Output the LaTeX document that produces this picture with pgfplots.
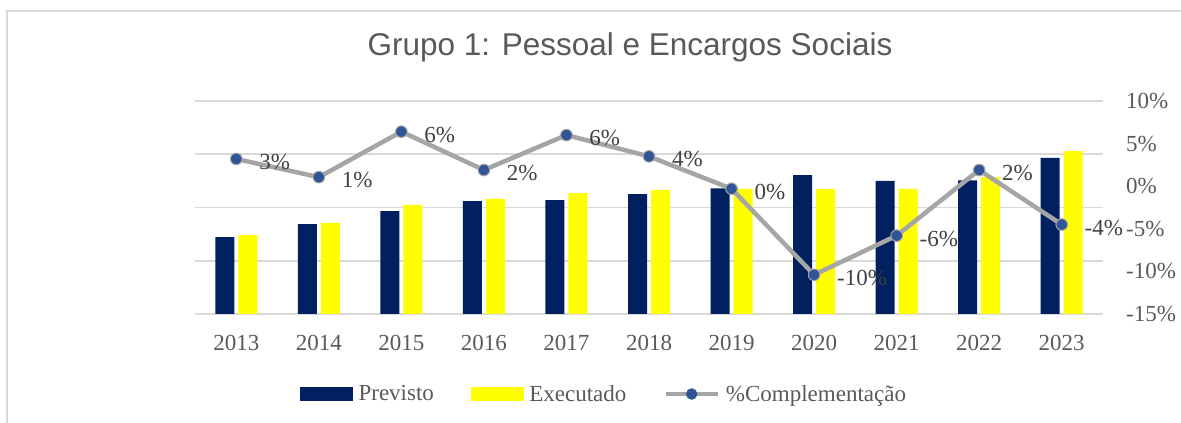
\documentclass[border=0pt]{standalone}
\usepackage{pgfplots}
\pgfplotsset{compat=1.18}
\usepackage{fontspec}
\setmainfont{Liberation Serif}
\newfontfamily\titlefont{Liberation Sans}
\definecolor{navyc}{HTML}{002060}
\definecolor{yelc}{HTML}{FFFF00}
\definecolor{linec}{HTML}{A5A5A5}
\definecolor{markc}{HTML}{2F5597}
\definecolor{gridc}{HTML}{D9D9D9}
\definecolor{txtc}{HTML}{595959}
\definecolor{lblc}{HTML}{404040}
\newcommand{\lblfont}{\fontsize{23bp}{27bp}\selectfont}
\begin{document}
\begin{tikzpicture}
\path[use as bounding box] (0,0) rectangle (1181bp,423bp);
\draw[gridc, line width=1.5bp] (7bp,-20bp) -- (7bp,412bp) -- (1200bp,412bp);
\node[anchor=base, font=\titlefont\fontsize{31.5bp}{36bp}\selectfont, text=txtc] at (630bp,367bp) {Grupo 1: Pessoal e Encargos Sociais};
\begin{axis}[
  at={(195bp,109bp)}, anchor=south west, scale only axis,
  width=908bp, height=213bp,
  xmin=-0.5, xmax=10.5, ymin=0, ymax=4,
  xtick={0,1,2,3,4,5,6,7,8,9,10},
  xticklabels={2013,2014,2015,2016,2017,2018,2019,2020,2021,2022,2023},
  ytick={0,1,2,3,4}, yticklabels={},
  ymajorgrids, major grid style={draw=gridc, line width=1.6bp},
  axis line style={draw=none}, major tick length=0pt,
  xticklabel style={font=\lblfont, text=txtc, anchor=base, inner sep=0pt, yshift=-37bp},
]
\addplot[ybar, bar width=19bp, bar shift=-11.5bp, fill=navyc, draw=none] coordinates {
(0,1.445) (1,1.69) (2,1.93) (3,2.12) (4,2.14) (5,2.25) (6,2.36) (7,2.61) (8,2.50) (9,2.51) (10,2.93)};
\addplot[ybar, bar width=19bp, bar shift=11.5bp, fill=yelc, draw=none] coordinates {
(0,1.48) (1,1.71) (2,2.05) (3,2.16) (4,2.27) (5,2.33) (6,2.35) (7,2.35) (8,2.35) (9,2.57) (10,3.06)};
\end{axis}
\begin{axis}[
  at={(195bp,109bp)}, anchor=south west, scale only axis,
  width=908bp, height=213bp,
  xmin=-0.5, xmax=10.5, ymin=-15, ymax=10,
  axis y line*=right, axis x line=none,
  axis line style={draw=none}, major tick length=0pt,
  ytick={-15,-10,-5,0,5,10},
  yticklabels={-15\%,-10\%,-5\%,0\%,5\%,10\%},
  yticklabel style={font=\lblfont, text=txtc, anchor=west, inner sep=0pt, xshift=23bp},
  clip=false,
  legend columns=3,
  legend style={at={(axis description cs:0.1156,-0.3756)}, anchor=west, draw=none, fill=none,
    inner sep=0pt, font=\lblfont, text=txtc, nodes={inner sep=0pt},
    /tikz/every odd column/.append style={column sep=6bp},
    /tikz/every even column/.append style={column sep=37bp}},
  legend cell align=left,
]
\addplot[linec, line width=4.5bp, mark=*, mark size=5.8bp,
  mark options={fill=markc, draw=linec, line width=1bp},
  nodes near coords, point meta=explicit symbolic,
  nodes near coords style={anchor=west, inner sep=0pt, xshift=22.5bp, yshift=-3bp, font=\lblfont, text=lblc},
  forget plot] coordinates {
(0,3.2) [3\%] (1,1.06) [1\%] (2,6.4) [6\%] (3,1.9) [2\%] (4,6.0) [6\%] (5,3.5) [4\%]
(6,-0.3) [0\%] (7,-10.4) [-10\%] (8,-5.8) [-6\%] (9,1.9) [2\%] (10,-4.5) [-4\%]};
\addlegendimage{legend image code/.code={\fill[navyc] (0bp,-6.5bp) rectangle (52bp,6.5bp);}}
\addlegendentry{Previsto}
\addlegendimage{legend image code/.code={\fill[yelc] (0bp,-6.5bp) rectangle (52bp,6.5bp);}}
\addlegendentry{Executado}
\addlegendimage{legend image code/.code={\draw[linec, line width=4.5bp] (0bp,0bp) -- (52bp,0bp); \fill[markc] (26bp,0bp) circle (5.5bp);}}
\addlegendentry{\%Complementação}
\end{axis}
\end{tikzpicture}
\end{document}
